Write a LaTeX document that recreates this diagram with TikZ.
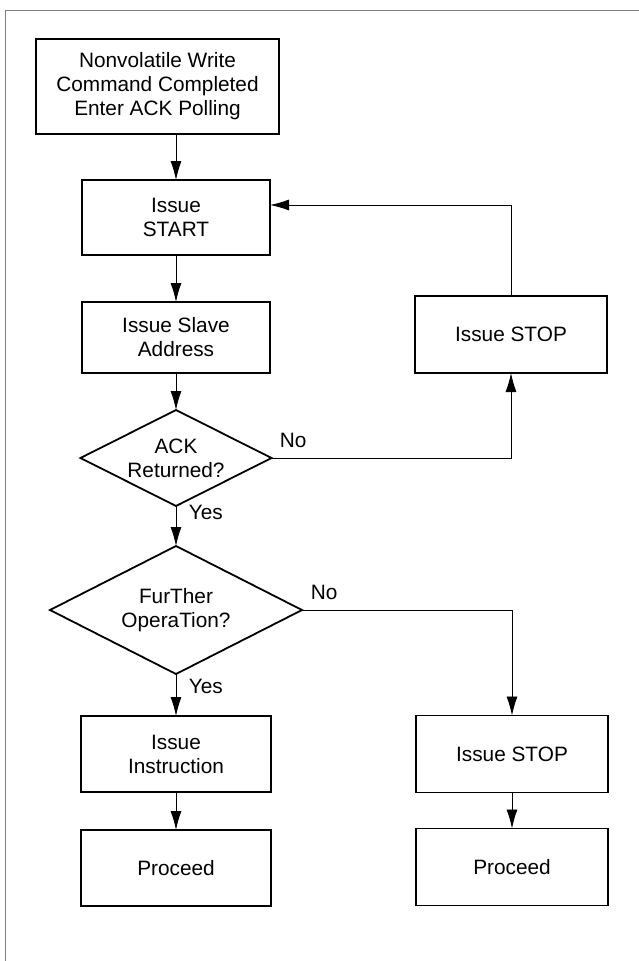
\documentclass[tikz,border=0pt]{standalone}
\usepackage{fontspec}
\setmainfont{Liberation Sans}
\usetikzlibrary{shapes,arrows.meta}
\usetikzlibrary{calc}
\usetikzlibrary{positioning}
\tikzstyle{block} = [draw, line width=1.8pt, rectangle, align=center,
    inner sep=0pt, outer sep=0pt, minimum height=75pt, minimum width=190pt]
\tikzstyle{decision} = [draw, line width=1.8pt, diamond, align=center,
    inner sep=0pt, outer sep=0pt]
\tikzstyle{flow} = [draw, line width=0.9pt, -{Latex[length=19pt,width=11pt]}]
\tikzstyle{frameline} = [draw, gray, line width=0.8pt]

\begin{document}
\begin{tikzpicture}[x=1pt, y=-1pt, font=\fontsize{20.8}{24}\selectfont]
    \useasboundingbox (0,0) rectangle (639,961);
    % outer frame, only left and top edges are visible
    \draw [frameline] (5,961) -- (5,10) -- (639,10);

    % We start by placing the blocks
    \node [block, minimum width=243pt, minimum height=95pt] (cmd) at (157.5,86.5)
        {Nonvolatile Write\\Command Completed\\Enter ACK Polling};
    \node [block, minimum width=188pt, below=46pt of cmd, xshift=18.5pt] (start) {Issue\\START};
    \node [block, minimum width=188pt, minimum height=71pt, below=47pt of start] (slave) {Issue Slave\\Address};
    \node [decision, minimum width=191pt, minimum height=96pt, aspect=2, below=37pt of slave] (ack) {ACK\\Returned?};
    \node [decision, minimum width=252pt, minimum height=128pt, aspect=1.97, below=40pt of ack] (further) {FurTher\\OperaTion?};
    \node [block, minimum height=76pt, below=42pt of further] (instr) {Issue\\Instruction};
    \node [block, minimum height=76pt, below=38pt of instr] (proc1) {Proceed};
    \node [block, minimum width=192pt, minimum height=77pt, right=145pt of slave, yshift=3pt] (stop1) {Issue STOP};
    \node [block, minimum width=192pt, minimum height=77pt, right=145pt of instr] (stop2) {Issue STOP};
    \node [block, minimum width=192pt, minimum height=77pt, below=36pt of stop2] (proc2) {Proceed};

    % Once the nodes are placed, connecting them is easy.
    \draw [flow] (start |- cmd.south) -- (start);
    \draw [flow] (start) -- (slave);
    \draw [flow] (slave) -- (ack);
    \draw [flow] (ack) -- node[right=9pt, pos=0.17] {Yes} (further);
    \draw [flow] (further) -- node[right=9pt, pos=0.3] {Yes} (instr);
    \draw [flow] (instr) -- (proc1);
    \draw [flow] (stop2) -- (proc2);
    \draw [flow] (ack.east) -- node[above=7pt, pos=0.09] {No} (ack.east -| stop1) -- (stop1.south);
    \draw [flow] (further.east) -- node[above=7pt, pos=0.106] {No} (further.east -| stop2) -- (stop2.north);
    \draw [flow] (stop1.north) |- ([yshift=12.5pt]start.east);
\end{tikzpicture}
\end{document}
